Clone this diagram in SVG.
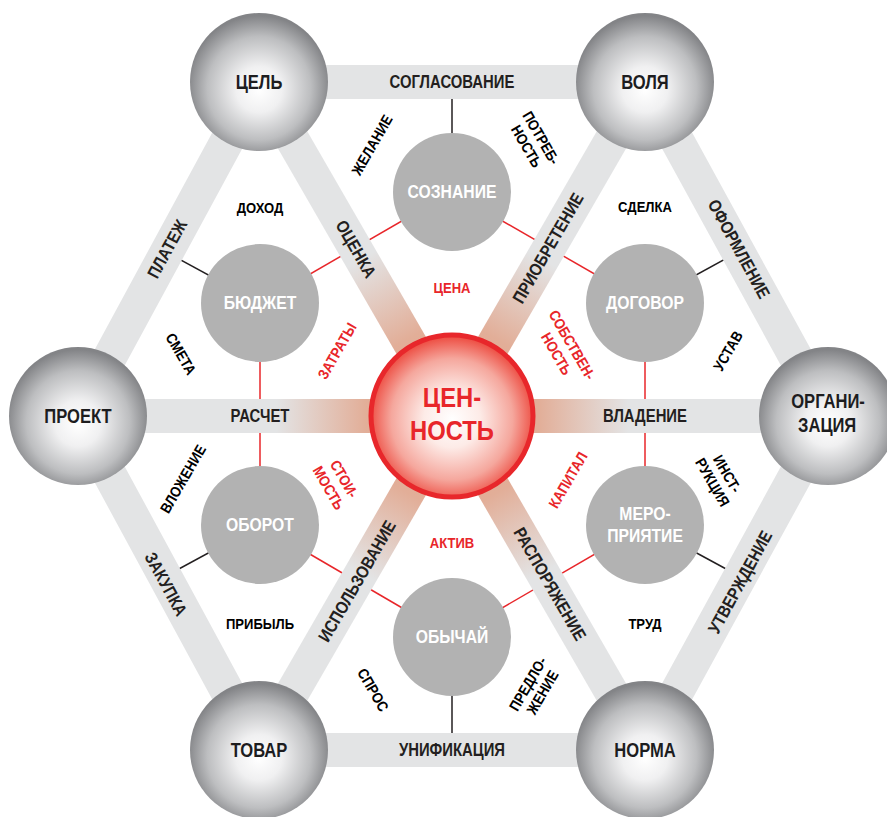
<svg xmlns="http://www.w3.org/2000/svg" width="887" height="817" viewBox="0 0 887 817">
<defs>
<radialGradient id="sphere" cx="50%" cy="54%" r="52%" fx="50%" fy="56%">
<stop offset="0" stop-color="#ffffff"/>
<stop offset="0.32" stop-color="#f0f0f1"/>
<stop offset="0.72" stop-color="#bdbec0"/>
<stop offset="1" stop-color="#838487"/>
</radialGradient>
<radialGradient id="core" cx="50%" cy="52%" r="50%">
<stop offset="0" stop-color="#ffffff"/>
<stop offset="0.35" stop-color="#fdebe7"/>
<stop offset="0.75" stop-color="#f5a79d"/>
<stop offset="1" stop-color="#ee5449"/>
</radialGradient>
<linearGradient id="spoke" x1="0" y1="0" x2="1" y2="0">
<stop offset="0" stop-color="#e0a58c"/>
<stop offset="0.23" stop-color="#e2ae98"/>
<stop offset="0.47" stop-color="#e3e4e5"/>
<stop offset="1" stop-color="#e3e4e5"/>
</linearGradient>
<style>
.t{font-family:'Liberation Sans',Arial,sans-serif;font-weight:bold;text-anchor:middle}
.bar{font-size:17.5px;fill:#231f20}
.sm{font-size:15px;fill:#000}
.rd{font-size:15px;fill:#e8262a}
.out{font-size:19.5px;fill:#1d1d1f}
.inn{font-size:18.5px;fill:#ffffff}
.ctr{font-size:28px;fill:#e8262a}
.pbar{stroke:#e3e4e5;stroke-width:34}
.rl{stroke:#e8262a;stroke-width:1.5}
.bl{stroke:#231f20;stroke-width:1.5}
.ic{fill:#b2b2b2}
.oc{fill:url(#sphere)}
</style>
</defs>
<g id="connectors">
<line class="rl" x1="452" y1="192" x2="260" y2="303"/>
<line class="rl" x1="452" y1="192" x2="645" y2="303"/>
<line class="rl" x1="260" y1="303" x2="260" y2="525"/>
<line class="rl" x1="645" y1="303" x2="645" y2="525"/>
<line class="rl" x1="260" y1="525" x2="452" y2="637"/>
<line class="rl" x1="645" y1="525" x2="452" y2="637"/>
<line class="bl" x1="452" y1="192" x2="452" y2="82"/>
<line class="bl" x1="260" y1="303" x2="167" y2="252.5"/>
<line class="bl" x1="645" y1="303" x2="738" y2="252"/>
<line class="bl" x1="260" y1="525" x2="165" y2="576.5"/>
<line class="bl" x1="645" y1="525" x2="740" y2="576.5"/>
<line class="bl" x1="452" y1="637" x2="452" y2="750"/>
<line class="pbar" x1="259" y1="82" x2="645" y2="82"/>
<line class="pbar" x1="645" y1="82" x2="828" y2="416"/>
<line class="pbar" x1="828" y1="416" x2="645" y2="750"/>
<line class="pbar" x1="645" y1="750" x2="259" y2="750"/>
<line class="pbar" x1="259" y1="750" x2="78" y2="416"/>
<line class="pbar" x1="78" y1="416" x2="259" y2="82"/>
<rect fill="url(#spoke)" x="0" y="-17" width="386" height="34" transform="translate(452,416) rotate(-120)"/>
<rect fill="url(#spoke)" x="0" y="-17" width="386" height="34" transform="translate(452,416) rotate(-60)"/>
<rect fill="url(#spoke)" x="0" y="-17" width="386" height="34" transform="translate(452,416) rotate(120)"/>
<rect fill="url(#spoke)" x="0" y="-17" width="386" height="34" transform="translate(452,416) rotate(60)"/>
<rect fill="url(#spoke)" x="0" y="-17" width="374" height="34" transform="translate(452,416) rotate(180)"/>
<rect fill="url(#spoke)" x="0" y="-17" width="376" height="34" transform="translate(452,416)"/>
<text class="t bar" transform="translate(452,82) scale(.85,1)" dy="0.35em">СОГЛАСОВАНИЕ</text>
<text class="t bar" transform="translate(452,750) scale(.85,1)" dy="0.35em">УНИФИКАЦИЯ</text>
<text class="t bar" transform="translate(260,416) scale(.85,1)" dy="0.35em">РАСЧЕТ</text>
<text class="t bar" transform="translate(645,416) scale(.85,1)" dy="0.35em">ВЛАДЕНИЕ</text>
<text class="t bar" transform="translate(167,249) rotate(-61.5) scale(.85,1)" dy="0.35em">ПЛАТЕЖ</text>
<text class="t bar" transform="translate(739,249) rotate(61.3) scale(.85,1)" dy="0.35em">ОФОРМЛЕНИЕ</text>
<text class="t bar" transform="translate(166,584) rotate(61.5) scale(.85,1)" dy="0.35em">ЗАКУПКА</text>
<text class="t bar" transform="translate(740,582) rotate(-61.3) scale(.85,1)" dy="0.35em">УТВЕРЖДЕНИЕ</text>
<text class="t bar" transform="translate(356,249) rotate(60) scale(.85,1)" dy="0.35em">ОЦЕНКА</text>
<text class="t bar" transform="translate(548,248) rotate(-60) scale(.85,1)" dy="0.35em">ПРИОБРЕТЕНИЕ</text>
<text class="t bar" transform="translate(357,581) rotate(-60) scale(.85,1)" dy="0.35em">ИСПОЛЬЗОВАНИЕ</text>
<text class="t bar" transform="translate(550,584) rotate(60) scale(.85,1)" dy="0.35em">РАСПОРЯЖЕНИЕ</text>
</g>
<g id="labels">
<text class="t sm" transform="translate(260,208) scale(.87,1)" dy="0.35em">ДОХОД</text>
<text class="t sm" transform="translate(645,207) scale(.87,1)" dy="0.35em">СДЕЛКА</text>
<text class="t sm" transform="translate(260,624) scale(.87,1)" dy="0.35em">ПРИБЫЛЬ</text>
<text class="t sm" transform="translate(645,624) scale(.87,1)" dy="0.35em">ТРУД</text>
<text class="t sm" transform="translate(181,354) rotate(60) scale(.87,1)" dy="0.35em">СМЕТА</text>
<text class="t sm" transform="translate(728,351) rotate(-60) scale(.87,1)" dy="0.35em">УСТАВ</text>
<text class="t sm" transform="translate(372,145) rotate(-60) scale(.87,1)" dy="0.35em">ЖЕЛАНИЕ</text>
<text class="t sm" transform="translate(183,479) rotate(-60) scale(.87,1)" dy="0.35em">ВЛОЖЕНИЕ</text>
<text class="t sm" transform="translate(373,690) rotate(60) scale(.87,1)" dy="0.35em">СПРОС</text>
<text class="t sm" transform="translate(534,142) rotate(60) scale(.87,1)"><tspan x="0" y="-3">ПОТРЕБ-</tspan><tspan x="0" y="14">НОСТЬ</tspan></text>
<text class="t sm" transform="translate(720,478) rotate(60) scale(.87,1)"><tspan x="0" y="-3">ИНСТ-</tspan><tspan x="0" y="14">РУКЦИЯ</tspan></text>
<text class="t sm" transform="translate(535,688) rotate(-60) scale(.87,1)"><tspan x="0" y="-3">ПРЕДЛО-</tspan><tspan x="0" y="14">ЖЕНИЕ</tspan></text>
<text class="t rd" transform="translate(452,288) scale(.87,1)" dy="0.35em">ЦЕНА</text>
<text class="t rd" transform="translate(452,543) scale(.87,1)" dy="0.35em">АКТИВ</text>
<text class="t rd" transform="translate(337,351) rotate(-60) scale(.87,1)" dy="0.35em">ЗАТРАТЫ</text>
<text class="t rd" transform="translate(568,480) rotate(-60) scale(.87,1)" dy="0.35em">КАПИТАЛ</text>
<text class="t rd" transform="translate(565,349) rotate(60) scale(.87,1)"><tspan x="0" y="-3">СОБСТВЕН-</tspan><tspan x="0" y="15">НОСТЬ</tspan></text>
<text class="t rd" transform="translate(337,483) rotate(60) scale(.87,1)"><tspan x="0" y="-3">СТОИ-</tspan><tspan x="0" y="15">МОСТЬ</tspan></text>
</g>
<g id="n-soznanie"><circle class="ic" cx="452" cy="192" r="59"/><text class="t inn" transform="translate(452,192) scale(.85,1)" dy="0.35em">СОЗНАНИЕ</text></g>
<g id="n-budzhet"><circle class="ic" cx="260" cy="303" r="59"/><text class="t inn" transform="translate(260,303) scale(.85,1)" dy="0.35em">БЮДЖЕТ</text></g>
<g id="n-dogovor"><circle class="ic" cx="645" cy="303" r="59"/><text class="t inn" transform="translate(645,303) scale(.85,1)" dy="0.35em">ДОГОВОР</text></g>
<g id="n-oborot"><circle class="ic" cx="260" cy="525" r="59"/><text class="t inn" transform="translate(260,525) scale(.85,1)" dy="0.35em">ОБОРОТ</text></g>
<g id="n-meropriyatie"><circle class="ic" cx="645" cy="525" r="59"/><text class="t inn" transform="translate(645,0) scale(.85,1)"><tspan x="0" y="520">МЕРО-</tspan><tspan x="0" y="542">ПРИЯТИЕ</tspan></text></g>
<g id="n-obychai"><circle class="ic" cx="452" cy="637" r="59"/><text class="t inn" transform="translate(452,637) scale(.85,1)" dy="0.35em">ОБЫЧАЙ</text></g>
<g id="n-tsel"><circle class="oc" cx="259" cy="82" r="69"/><text class="t out" transform="translate(259,82) scale(.85,1)" dy="0.35em">ЦЕЛЬ</text></g>
<g id="n-volya"><circle class="oc" cx="645" cy="82" r="69"/><text class="t out" transform="translate(645,82) scale(.85,1)" dy="0.35em">ВОЛЯ</text></g>
<g id="n-proekt"><circle class="oc" cx="78" cy="416" r="69"/><text class="t out" transform="translate(78,416) scale(.85,1)" dy="0.35em">ПРОЕКТ</text></g>
<g id="n-organizatsiya"><circle class="oc" cx="828" cy="416" r="69"/><text class="t out" transform="translate(828,0) scale(.85,1)"><tspan x="0" y="408">ОРГАНИ-</tspan><tspan x="-1" y="432">ЗАЦИЯ</tspan></text></g>
<g id="n-tovar"><circle class="oc" cx="259" cy="750" r="69"/><text class="t out" transform="translate(259,750) scale(.85,1)" dy="0.35em">ТОВАР</text></g>
<g id="n-norma"><circle class="oc" cx="645" cy="750" r="69"/><text class="t out" transform="translate(645,750) scale(.85,1)" dy="0.35em">НОРМА</text></g>
<g id="n-tsennost"><circle cx="452" cy="416" r="81" fill="url(#core)" stroke="#e8272b" stroke-width="5"/><text class="t ctr" transform="translate(452,0) scale(.85,1)"><tspan x="0" y="407">ЦЕН-</tspan><tspan x="0" y="440">НОСТЬ</tspan></text></g>
</svg>
